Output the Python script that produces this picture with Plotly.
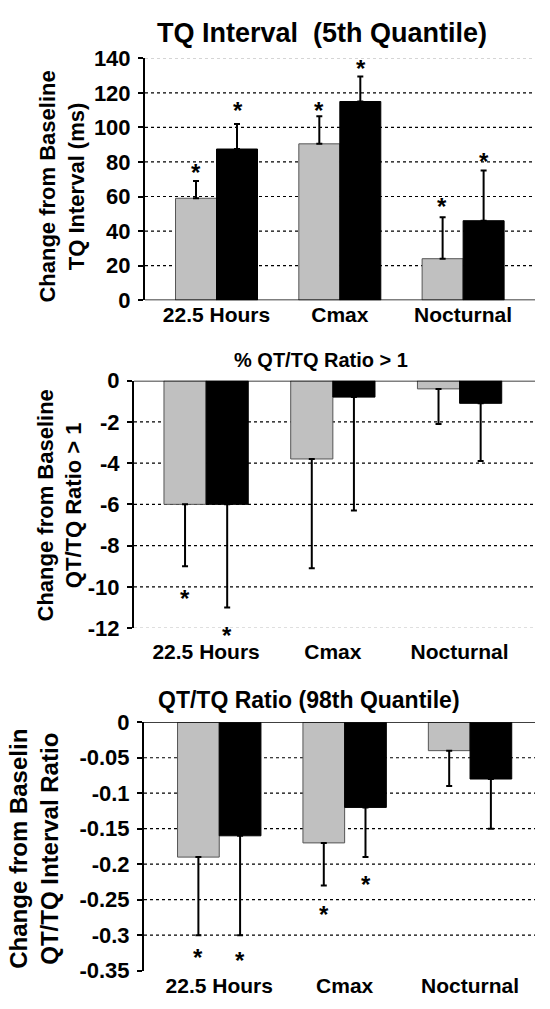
import plotly.graph_objects as go
from plotly.subplots import make_subplots

W, H = 550, 1009
FONT = "Liberation Sans, Arial, sans-serif"

categories = ["22.5 Hours", "Cmax", "Nocturnal"]

# panel 1: TQ interval (5th quantile)
tq_gray = [59, 90.5, 24]
tq_black = [87.5, 115, 46]
tq_gray_err = [10, 16, 24]
tq_black_err = [14.5, 14.5, 29]
tq_gray_star = [77.4, 113.2, 57.9]
tq_black_star = [113.2, 137.7, 84]
tq_ticks = [0, 20, 40, 60, 80, 100, 120, 140]

# panel 2: % QT/TQ ratio > 1
pct_gray = [-6, -3.8, -0.4]
pct_black = [-6, -0.8, -1.1]
pct_gray_err = [3, 5.3, 1.7]
pct_black_err = [5, 5.5, 2.8]
pct_gray_star = [-10.3, None, None]
pct_black_star = [-12.07, None, None]
pct_ticks = [0, -2, -4, -6, -8, -10, -12]

# panel 3: QT/TQ ratio (98th quantile)
rat_gray = [-0.19, -0.17, -0.04]
rat_black = [-0.16, -0.12, -0.08]
rat_gray_err = [0.11, 0.06, 0.05]
rat_black_err = [0.14, 0.07, 0.07]
rat_gray_star = [-0.323, -0.2626, None]
rat_black_star = [-0.327, -0.2203, None]
rat_ticks = [0, -0.05, -0.1, -0.15, -0.2, -0.25, -0.3, -0.35]
rat_ticktext = ["0", "-0.05", "-0.1", "-0.15", "-0.2", "-0.25", "-0.3", "-0.35"]


def px(x):
    return x / W


def py(y):
    return 1 - y / H


fig = make_subplots(rows=3, cols=1)

panels = [
    dict(row=1, g=tq_gray, b=tq_black, ge=tq_gray_err, be=tq_black_err,
         gs=tq_gray_star, bs=tq_black_star, up=True,
         xdom=[145, 535], ydom=[295.5, 47.5], xr=[-0.58, 2.583], yr=[0, 140],
         ticks=tq_ticks, ticktext=[str(t) for t in tq_ticks],
         title="TQ Interval\u00a0\u00a0(5th Quantile)", tsize=27, tx=322, ty=22,
         ytitle="Change from Baseline<br>TQ Interval (ms)", ysize=22, yx=62, yy=179,
         faint=140, standoff=0),
    dict(row=2, g=pct_gray, b=pct_black, ge=pct_gray_err, be=pct_black_err,
         gs=pct_gray_star, bs=pct_black_star, up=False,
         xdom=[134, 535], ydom=[631.7, 378], xr=[-0.569, 2.595], yr=[-12, 0],
         ticks=pct_ticks, ticktext=[str(t) for t in pct_ticks],
         title="% QT/TQ Ratio > 1", tsize=20, tx=321, ty=357,
         ytitle="Change from Baseline<br>QT/TQ Ratio > 1", ysize=22, yx=60, yy=506,
         faint=-12, standoff=9),
    dict(row=3, g=rat_gray, b=rat_black, ge=rat_gray_err, be=rat_black_err,
         gs=rat_gray_star, bs=rat_black_star, up=False,
         xdom=[144, 535], ydom=[983, 728.3], xr=[-0.6, 2.518], yr=[-0.35, 0],
         ticks=rat_ticks, ticktext=rat_ticktext,
         title="QT/TQ Ratio (98th Quantile)", tsize=23, tx=309, ty=705,
         ytitle="Change from Baselin<br>QT/TQ Interval Ratio", ysize=24, yx=34, yy=858,
         faint=None, standoff=0),
]

for p in panels:
    r = p["row"]
    for vals, err, color, line in [(p["g"], p["ge"], "#c0c0c0", "#555555"),
                                   (p["b"], p["be"], "#000000", "#000000")]:
        zeros = [0] * len(err)
        fig.add_trace(go.Bar(
            x=categories, y=vals,
            marker=dict(color=color, line=dict(color=line, width=1)),
            error_y=dict(type="data", symmetric=False,
                         array=err if p["up"] else zeros,
                         arrayminus=zeros if p["up"] else err,
                         color="black", thickness=2, width=3),
            showlegend=False,
        ), row=r, col=1)

    # dotted gridlines behind the bars
    for t in p["ticks"]:
        if t == 0:
            continue
        if t == p["faint"]:
            fig.add_hline(y=t, line=dict(color="#bbbbbb", width=1, dash="dot"),
                          layer="below", row=r, col=1)
        elif t != min(p["ticks"]) or p["faint"] is not None:
            fig.add_hline(y=t, line=dict(color="black", width=1.2, dash="dot"),
                          layer="below", row=r, col=1)
    fig.add_hline(y=0, line=dict(color="black", width=1.5), layer="above", row=r, col=1)

    xa = "xaxis" if r == 1 else f"xaxis{r}"
    ya = "yaxis" if r == 1 else f"yaxis{r}"
    fig.update_layout({
        xa: dict(domain=[px(p["xdom"][0]), px(p["xdom"][1])], range=p["xr"],
                 showline=False, showgrid=False, zeroline=False, ticks="", ticklen=0,
                 tickfont=dict(family=FONT, size=21, color="black", weight="bold"),
                 ticklabelstandoff=p["standoff"]),
        ya: dict(domain=[py(p["ydom"][0]), py(p["ydom"][1])], range=p["yr"],
                 tickvals=p["ticks"], ticktext=p["ticktext"],
                 showline=True, linecolor="black", linewidth=2,
                 ticks="outside", ticklen=5, tickwidth=1.5, tickcolor="black",
                 showgrid=False, zeroline=False, ticklabelstandoff=3,
                 tickfont=dict(family=FONT, size=22, color="black", weight="bold")),
    })

    fig.add_annotation(text=p["title"], x=px(p["tx"]), y=py(p["ty"]),
                       xref="paper", yref="paper", showarrow=False,
                       xanchor="center", yanchor="middle",
                       font=dict(family=FONT, size=p["tsize"], color="black", weight="bold"))
    fig.add_annotation(text=p["ytitle"], x=px(p["yx"]), y=py(p["yy"]),
                       xref="paper", yref="paper", showarrow=False, textangle=-90,
                       xanchor="center", yanchor="middle",
                       font=dict(family=FONT, size=p["ysize"], color="black", weight="bold"))

    xref = "x" if r == 1 else f"x{r}"
    yref = ("y" if r == 1 else f"y{r}") + " domain"
    y0, y1 = p["yr"]
    for stars, shift in [(p["gs"], -21), (p["bs"], 21)]:
        for cat, sy in zip(categories, stars):
            if sy is None:
                continue
            fig.add_annotation(text="*", x=cat, y=(sy - y0) / (y1 - y0),
                               xref=xref, yref=yref,
                               xshift=shift, yshift=-6, showarrow=False,
                               xanchor="center", yanchor="middle",
                               font=dict(family=FONT, size=24, color="black", weight="bold"))

fig.update_layout(
    width=W, height=H,
    margin=dict(l=0, r=0, t=0, b=0),
    barmode="group", bargap=0.335, bargroupgap=0,
    plot_bgcolor="white", paper_bgcolor="white",
    font=dict(family=FONT, color="black"),
)

fig.write_html("out.html", config={"displayModeBar": False},
               post_script="document.body.style.margin='0';")
